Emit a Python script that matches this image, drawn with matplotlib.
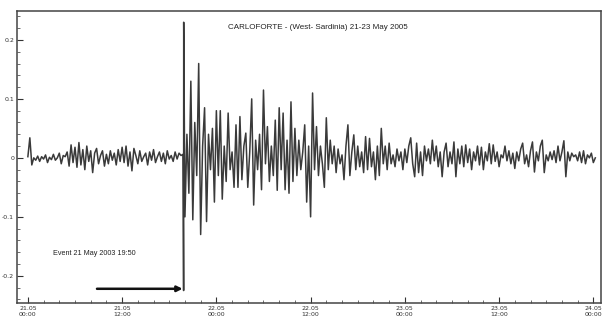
import matplotlib.pyplot as plt
import numpy as np
from matplotlib.ticker import MultipleLocator

# Seismic trace, amplitude values (units of 0.001)
# quiet part before the event, sampled every 15 minutes from 21.05 00:00
v_pre = [2, 34, -12, 0, -4, 3, -6, 2, -2, 5, -8, 1, -3, 6, -4, 0, 8, -10, 4, 2,
         10, -14, 22, -8, 18, -16, 26, -12, 14, -20, 20, -6, 12, -25, 8, 16, -10, 4, 12, -14,
         6, -10, 12, -4, 8, -12, 14, -6, 18, -8, 20, -14, 10, -22, 16, 4, -10, 12, -6, 2,
         8, -12, 10, -4, 14, -8, 2, 10, -6, 8, -10, 12, -2, 4, -6, 10, -2, 8, 4, 6]

# event 21 May 19:50
t_event = [19.83, 19.84]
v_event = [-225, 230]

# after the event, sampled every 15 minutes from 22.05 20:00
v_post = [-100, 40, -60, 130, -105, 60, -30, 160, -130, 20, 85, -108, 40, -20, 50, -75,
          80, -30, 80, -70, 20, -40, 76, -20, 10, -50, 56, -50, 70, -37, 20, 42,
          -50, 10, 100, -80, 30, -20, 40, -54, 115, -10, 53, -40, 20, -30, 64, -55,
          85, -20, 76, -54, 30, -60, 95, -40, 50, -30, 30, -20, 10, 56, -75, 20,
          -100, 110, -20, 53, -30, 20, -10, -50, 68, -20, 30, -10, 20, -25, 15, -10,
          5, -37, 20, 56, -30, 10, 39, -20, 20, -15, 10, -25, 36, -20, 33, -15,
          10, -37, 20, -30, 50, -10, 20, -20, 25, -10, 5, -15, 15, -5, 10, -20,
          15, -8, 20, 34, -10, -32, 25, -25, 10, -30, 20, -5, 15, -10, 30, -5,
          20, -15, 10, -32, 10, 25, -15, 10, -10, 27, -32, 15, -10, 20, -15, 22,
          -8, 15, -20, 10, -5, 20, -12, 18, -20, 10, -5, 24, -10, 22, -6, 10,
          -15, 5, 0, 20, -5, 12, -10, 8, -18, 10, -5, 15, 25, -10, 5, -15,
          12, 27, -24, 10, -5, 20, 30, -25, 5, -5, 10, -3, 12, -8, 20, -5,
          10, 29, -32, 10, -5, 8, 2, 5, -5, 10, -8, 12, -10, 5, 0, 8, -8, 0]

tick_labels = ["21.05\n00:00", "21.05\n12:00", "22.05\n00:00", "22.05\n12:00",
               "23.05\n00:00", "23.05\n12:00", "24.05\n00:00"]

t_pre = np.arange(len(v_pre)) * 0.25
t_post = 20.0 + np.arange(len(v_post)) * 0.25
t = np.concatenate([t_pre, t_event, t_post])
v = np.concatenate([v_pre, v_event, v_post]) / 1000.0

fig = plt.figure(figsize=(6.03, 3.24), dpi=100)
ax = fig.add_axes([0.028, 0.065, 0.969, 0.901])

ax.plot(t, v, color="#3a3a3a", lw=1.1)

ax.set_xlim(-1.4, 73)
ax.set_ylim(-0.246, 0.249)
ax.set_xticks(np.arange(0, 73, 12))
ax.set_xticklabels(tick_labels)
ax.set_yticks([-0.2, -0.1, 0, 0.1, 0.2])
ax.set_yticklabels(["-0.2", "-0.1", "0", "0.1", "0.2"])
ax.xaxis.set_minor_locator(MultipleLocator(2))
ax.yaxis.set_minor_locator(MultipleLocator(0.02))
ax.tick_params(which="major", direction="in", length=4, width=0.8,
               labelsize=4.5, colors="#333333", pad=2)
ax.tick_params(which="minor", direction="in", length=2, width=0.6, colors="#555555")
for s in ax.spines.values():
    s.set_color("#444444")
    s.set_linewidth(1.1)

ax.text(0.515, 0.945, "CARLOFORTE - (West- Sardinia) 21-23 May 2005",
        transform=ax.transAxes, ha="center", va="center",
        fontsize=5.8, family="Liberation Sans", color="#222222")
ax.text(8.5, -0.163, "Event 21 May 2003 19:50", ha="center", va="center",
        fontsize=5.2, family="Liberation Sans", color="#222222")
ax.annotate("", xy=(19.7, -0.222), xytext=(8.8, -0.222),
            arrowprops=dict(arrowstyle="-|>", color="#111111", lw=1.8,
                            mutation_scale=8, shrinkA=0, shrinkB=0))

fig.savefig("out.png", dpi=100)
